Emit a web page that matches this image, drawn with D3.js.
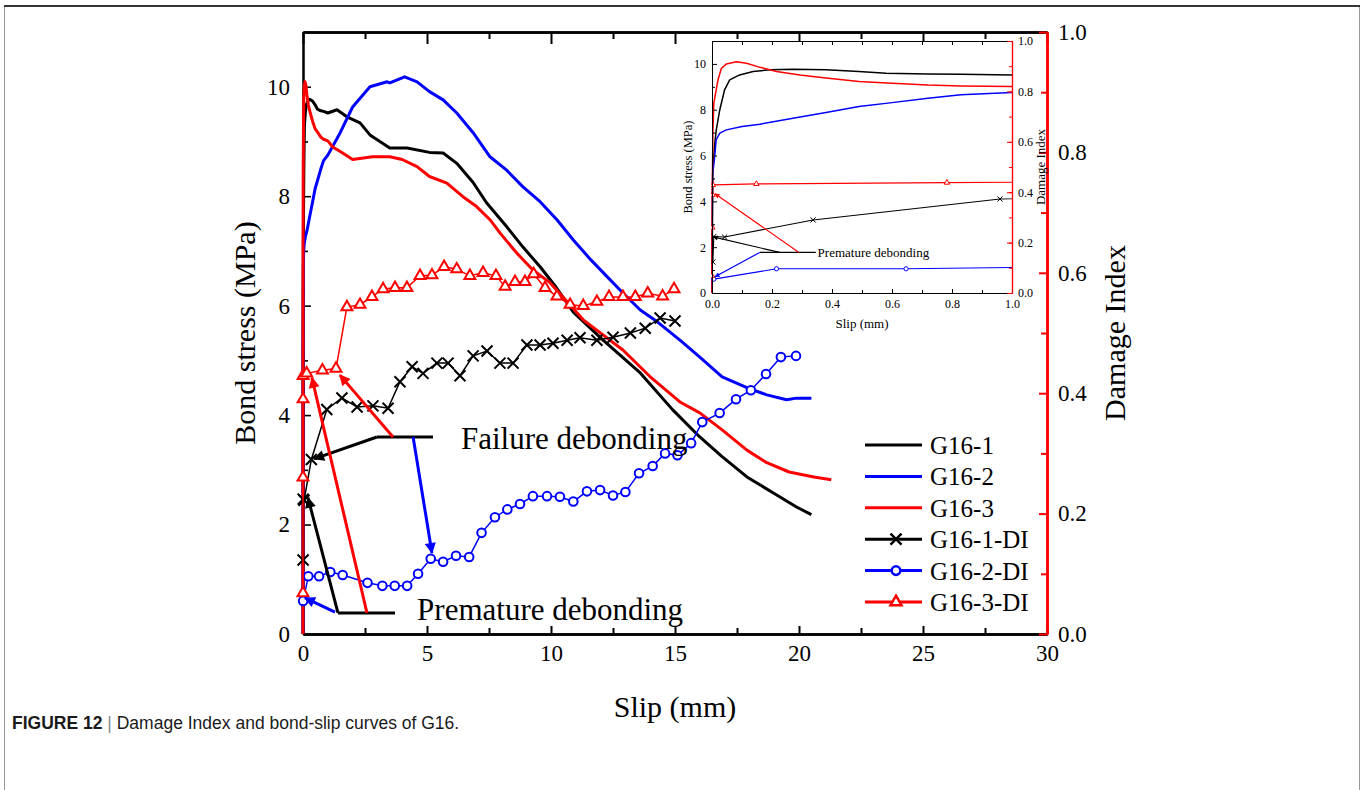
<!DOCTYPE html>
<html lang="en">
<head>
<meta charset="UTF-8">
<title>Damage Index and bond-slip curves of G16</title>
<script src="https://cdn.jsdelivr.net/npm/d3@7/dist/d3.min.js"></script>
<style>
  body { margin: 0; background: #fff; }
</style>
</head>
<body>
<svg id="main" width="1363" height="790"></svg>
<script>
    // bond stress (MPa) against slip (mm)
    const g161 = [[0,0],[0.002,4.5],[0.003,5.4],[0.009,6.5],[0.014,7.1],[0.026,8.0],[0.042,8.87],[0.059,9.3],
        [0.092,9.52],[0.137,9.67],[0.193,9.74],[0.27,9.77],[0.38,9.74],[0.49,9.67],[0.58,9.59],[0.72,9.56],
        [0.83,9.55],[1.0,9.52],[1.37,9.58],[1.77,9.45],[2.3,9.34],[2.7,9.12],[3.1,9.0],[3.5,8.88],[4.2,8.88],
        [5.1,8.8],[5.65,8.79],[6.2,8.6],[6.86,8.25],[7.4,7.88],[8.2,7.45],[8.87,7.07],[9.56,6.71],[10.2,6.34],
        [10.9,5.88],[12.1,5.37],[13.6,4.77],[14.9,4.1],[16.0,3.6],[16.9,3.24],[17.9,2.87],[18.95,2.58],
        [19.9,2.32],[20.5,2.18]];
    const g162 = [[0,0],[0.002,5.2],[0.006,5.6],[0.009,5.96],[0.014,6.69],[0.026,6.98],[0.048,7.12],[0.1,7.27],
        [0.16,7.37],[0.27,7.63],[0.38,7.88],[0.49,8.14],[0.6,8.31],[0.72,8.5],[0.83,8.65],[1.0,8.75],[1.5,9.16],
        [2.0,9.63],[2.7,10.0],[3.39,10.09],[3.5,10.07],[4.1,10.18],[4.6,10.09],[5.1,9.91],[5.65,9.76],[6.2,9.52],
        [6.86,9.16],[7.54,8.72],[8.2,8.48],[8.87,8.17],[9.56,7.9],[10.24,7.57],[10.9,7.2],[11.6,6.84],
        [12.26,6.53],[12.9,6.23],[13.6,5.92],[14.3,5.7],[15.2,5.37],[16.0,5.06],[16.9,4.7],[17.9,4.5],
        [18.7,4.37],[19.5,4.28],[19.9,4.31],[20.5,4.31]];
    const g163 = [[0,0],[0.001,4.5],[0.003,7.0],[0.006,8.28],[0.012,8.72],[0.02,9.3],[0.031,9.8],[0.048,10.0],
        [0.081,10.09],[0.115,10.03],[0.16,9.85],[0.215,9.67],[0.293,9.52],[0.38,9.38],[0.49,9.23],[0.6,9.16],
        [0.72,9.08],[0.83,9.04],[1.0,9.01],[1.2,8.9],[1.6,8.79],[2.0,8.67],[2.8,8.72],[3.5,8.72],[4.0,8.67],
        [4.6,8.54],[5.1,8.36],[5.8,8.24],[6.45,7.99],[7.0,7.81],[7.54,7.57],[7.94,7.33],[8.6,6.97],[9.27,6.65],
        [9.96,6.42],[10.6,6.1],[11.3,5.74],[12.9,5.19],[14.0,4.7],[15.2,4.24],[16.0,4.04],[16.9,3.73],
        [17.9,3.36],[18.7,3.13],[19.6,2.96],[20.6,2.87],[21.3,2.82]];

    // damage index against slip (mm)
    const g161DI = [[0.003,0.123],[0.006,0.224],[0.042,0.222],[0.337,0.29],[0.96,0.373],[1.57,0.392],[2.18,0.377],
        [2.82,0.379],[3.43,0.375],[3.91,0.419],[4.4,0.444],[4.84,0.433],[5.4,0.45],[5.85,0.45],[6.33,0.429],
        [6.86,0.462],[7.42,0.47],[7.94,0.45],[8.47,0.45],[9.03,0.48],[9.56,0.48],[10.08,0.483],[10.65,0.488],
        [11.17,0.492],[11.85,0.488],[12.5,0.493],[13.2,0.5],[13.8,0.508],[14.4,0.525],[15.0,0.52]];
    const g162DI = [[0.006,0.055],[0.215,0.096],[0.647,0.096],[1.1,0.103],[1.6,0.098],[2.6,0.085],[3.2,0.08],
        [3.7,0.08],[4.2,0.08],[4.64,0.1],[5.15,0.125],[5.65,0.12],[6.17,0.13],[6.7,0.128],[7.2,0.168],
        [7.74,0.194],[8.24,0.207],[8.75,0.216],[9.27,0.229],[9.84,0.229],[10.36,0.228],[10.9,0.22],[11.45,0.237],
        [11.98,0.239],[12.5,0.23],[13.0,0.236],[13.55,0.267],[14.1,0.279],[14.6,0.3],[15.1,0.297],[15.65,0.317],
        [16.1,0.352],[16.8,0.367],[17.46,0.39],[18.06,0.405],[18.67,0.432],[19.27,0.46],[19.88,0.462]];
    const g163DI = [[0,0.068],[0.001,0.26],[0.002,0.39],[0.003,0.429],[0.148,0.433],[0.783,0.438],[1.33,0.441],
        [1.77,0.543],[2.3,0.547],[2.78,0.56],[3.23,0.573],[3.71,0.575],[4.19,0.575],[4.72,0.595],[5.2,0.596],
        [5.69,0.61],[6.2,0.606],[6.73,0.595],[7.26,0.6],[7.78,0.595],[8.15,0.577],[8.55,0.585],[8.95,0.585],
        [9.3,0.598],[9.76,0.575],[10.24,0.561],[10.77,0.547],[11.3,0.545],[11.85,0.552],[12.34,0.56],[12.9,0.56],
        [13.4,0.56],[13.9,0.566],[14.5,0.561],[14.96,0.573]];

    const slipTicks = [0, 5, 10, 15, 20, 25, 30];
    const stressTicks = [0, 2, 4, 6, 8, 10];
    const diTicks = [0, 0.2, 0.4, 0.6, 0.8, 1.0];
    const insetSlipTicks = [0, 0.2, 0.4, 0.6, 0.8, 1.0];
    const legendNames = ['G16-1', 'G16-2', 'G16-3', 'G16-1-DI', 'G16-2-DI', 'G16-3-DI'];

    const serif = '"Liberation Serif", "Times New Roman", serif';
    let svg = d3.select('svg#main');

    // figure frame + caption
    svg.append('rect').attr('x', 4.5).attr('y', 6).attr('width', 1355).attr('height', 800)
        .attr('fill', 'none').attr('stroke', '#999').attr('stroke-width', 1);
    svg.append('line').attr('x1', 4).attr('x2', 1360).attr('y1', 6).attr('y2', 6)
        .attr('stroke', '#333').attr('stroke-width', 2);
    let cap = svg.append('text').attr('x', 12).attr('y', 729)
        .attr('font-family', '"Liberation Sans", Arial, sans-serif').attr('font-size', 17.5).attr('fill', '#1a1a1a');
    cap.append('tspan').attr('font-weight', 'bold').text('FIGURE 12');
    cap.append('tspan').attr('fill', '#888').text(' | ');
    cap.append('tspan').text('Damage Index and bond-slip curves of G16.');

    const series = [
        {data: g161, color: '#000'}, {data: g162, color: '#0000ff'}, {data: g163, color: '#ff0000'}
    ];
    const diSeries = [
        {data: g161DI, color: '#000', mark: 'x'}, {data: g162DI, color: '#0000ff', mark: 'o'},
        {data: g163DI, color: '#ff0000', mark: 't'}
    ];

    function markPath(kind, s) {
        if (kind === 'x') return `M${-s},${-s}L${s},${s}M${-s},${s}L${s},${-s}`;
        if (kind === 'o') return d3.symbol(d3.symbolCircle, Math.PI * s * s)();
        return d3.symbol(d3.symbolTriangle, s * s * 1.9)();
    }

    function tickAxis(parent, gen, scale, values, size, fmt, color, width, pos, pad, fontSize) {
        let a = gen(scale).tickValues(values).tickSizeInner(-size).tickSizeOuter(0)
            .tickPadding(pad).tickFormat(fmt);
        let g = parent.append('g').attr('transform', pos).call(a)
            .attr('font-family', serif).attr('font-size', fontSize);
        g.select('.domain').attr('stroke', color).attr('stroke-width', width);
        g.selectAll('.tick line').attr('stroke', color).attr('stroke-width', Math.max(1, width * 0.8));
        g.selectAll('.tick text').attr('fill', '#000');
        return g;
    }

    function drawPlot(g, x, y, yd, st) {
        let line = d3.line().x(d => x(d[0])).y(d => y(d[1]));
        let diLine = d3.line().x(d => x(d[0])).y(d => yd(d[1]));
        g.selectAll('path.stress').data(series).enter().append('path')
            .attr('class', 'stress')
            .attr('d', d => line(d.data)).attr('fill', 'none')
            .attr('stroke', d => d.color).attr('stroke-width', st.lw).attr('stroke-linejoin', 'round');
        diSeries.forEach(s => {
            g.append('path').attr('d', diLine(s.data)).attr('fill', 'none')
                .attr('stroke', s.color).attr('stroke-width', st.dlw);
            g.selectAll(null).data(s.data.filter(d => x(d[0]) <= st.xMax + 1)).enter().append('path')
                .attr('transform', d => `translate(${x(d[0])},${yd(d[1])})`)
                .attr('d', markPath(s.mark, st.ms[s.mark]))
                .attr('fill', s.mark === 'x' ? 'none' : '#fff')
                .attr('stroke', s.color).attr('stroke-width', st.mw);
        });
    }

    // arrowheads
    let defs = svg.append('defs');
    [['k', '#000'], ['b', '#0000ff'], ['r', '#ff0000']].forEach(([id, c]) => {
        defs.append('marker').attr('id', 'ah' + id).attr('viewBox', '0 0 10 10')
            .attr('refX', 9).attr('refY', 5).attr('markerWidth', 15).attr('markerHeight', 11)
            .attr('markerUnits', 'userSpaceOnUse').attr('orient', 'auto')
            .append('path').attr('d', 'M0,0L10,5L0,10Z').attr('fill', c);
        defs.append('marker').attr('id', 'as' + id).attr('viewBox', '0 0 10 10')
            .attr('refX', 9).attr('refY', 5).attr('markerWidth', 7).attr('markerHeight', 5)
            .attr('markerUnits', 'userSpaceOnUse').attr('orient', 'auto')
            .append('path').attr('d', 'M0,0L10,5L0,10Z').attr('fill', c);
    });

    // ---------- main plot ----------
    const x = d3.scaleLinear().domain([0, 30]).range([303, 1047]);
    const y = d3.scaleLinear().domain([0, 11]).range([634, 32]);
    const yDI = d3.scaleLinear().domain([0, 1]).range([634, 32]);

    let ax = svg.append('g');
    tickAxis(ax, d3.axisBottom, x, slipTicks, 8, d3.format('d'), '#000', 2.5, 'translate(0,634)', 11, 23);
    tickAxis(ax, d3.axisBottom, x, slipTicks.slice(0, -1).map(v => v + 2.5), 6, () => '', '#000', 2.5, 'translate(0,634)', 11, 23);
    tickAxis(ax, d3.axisTop, x, slipTicks, 12, () => '', '#000', 2.5, 'translate(0,32)', 0, 10);
    tickAxis(ax, d3.axisTop, x, slipTicks.slice(0, -1).map(v => v + 2.5), 7, () => '', '#000', 2.5, 'translate(0,32)', 0, 10);
    tickAxis(ax, d3.axisLeft, y, stressTicks, 8, d3.format('d'), '#000', 2, 'translate(303,0)', 13, 23);
    tickAxis(ax, d3.axisLeft, y, stressTicks.map(v => v + 1), 5, () => '', '#000', 2, 'translate(303,0)', 13, 23);
    tickAxis(ax, d3.axisRight, yDI, diTicks, 8, d3.format('.1f'), '#ff0000', 2.5, 'translate(1047,0)', 11, 23);
    tickAxis(ax, d3.axisRight, yDI, diTicks.slice(0, -1).map(v => v + 0.1), 6, () => '', '#ff0000', 2.5, 'translate(1047,0)', 11, 23);

    svg.append('text').attr('transform', 'translate(255,333) rotate(-90)').attr('text-anchor', 'middle')
        .attr('font-family', serif).attr('font-size', 30).text('Bond stress (MPa)');
    svg.append('text').attr('transform', 'translate(1125,333) rotate(-90)').attr('text-anchor', 'middle')
        .attr('font-family', serif).attr('font-size', 30).text('Damage Index');
    svg.append('text').attr('x', 675).attr('y', 717).attr('text-anchor', 'middle')
        .attr('font-family', serif).attr('font-size', 30).text('Slip (mm)');

    drawPlot(svg.append('g'), x, y, yDI, {lw: 3, dlw: 1.5, mw: 2, xMax: 1047, ms: {x: 5.5, o: 4.3, t: 5.2}});

    // annotations (slip, stress)
    function annotate(g, xs, ys, lines, arrows, label, mk, lw, fs) {
        lines.forEach(l => g.append('line')
            .attr('x1', xs(l[0])).attr('y1', ys(l[1])).attr('x2', xs(l[2])).attr('y2', ys(l[3]))
            .attr('stroke', '#000').attr('stroke-width', lw));
        arrows.forEach(a => g.append('line')
            .attr('x1', xs(a[1])).attr('y1', ys(a[2])).attr('x2', xs(a[3])).attr('y2', ys(a[4]))
            .attr('stroke', a[0] === 'k' ? '#000' : a[0] === 'b' ? '#0000ff' : '#ff0000')
            .attr('stroke-width', lw).attr('marker-end', `url(#${mk}${a[0]})`));
        g.append('text').attr('x', xs(label[1])).attr('y', ys(label[2]))
            .attr('font-family', serif).attr('font-size', fs).text(label[0]);
    }
    let ann = svg.append('g');
    annotate(ann, x, y, [[2.98, 3.6, 5.24, 3.6]],
        [['k', 2.98, 3.6, 0.45, 3.2], ['r', 3.63, 3.6, 1.49, 4.73], ['b', 4.44, 3.6, 5.2, 1.48]],
        ['Failure debonding', 6.37, 3.38], 'ah', 3, 31);
    annotate(ann, x, y, [[1.41, 0.384, 3.71, 0.384]],
        [['k', 1.41, 0.384, 0.2, 2.49], ['r', 2.58, 0.384, 0.36, 4.68], ['b', 1.29, 0.4, 0.08, 0.66]],
        ['Premature debonding', 4.6, 0.256], 'ah', 3, 31);

    // legend
    let leg = svg.append('g').selectAll('g').data(legendNames).enter().append('g')
        .attr('transform', (d, i) => `translate(865,${445 + i * 31.4})`);
    leg.append('line').attr('x1', 0).attr('x2', 57)
        .attr('stroke', (d, i) => ['#000', '#0000ff', '#ff0000'][i % 3]).attr('stroke-width', 3);
    leg.filter((d, i) => i > 2).append('path')
        .attr('transform', 'translate(31,0)')
        .attr('d', (d, i) => markPath(['x', 'o', 't'][i], [5.5, 4.3, 5.2][i]))
        .attr('fill', (d, i) => i === 0 ? 'none' : '#fff')
        .attr('stroke', (d, i) => ['#000', '#0000ff', '#ff0000'][i]).attr('stroke-width', 2.5);
    leg.append('text').attr('x', 65).attr('y', 9).attr('font-family', serif).attr('font-size', 25)
        .text(d => d);

    // ---------- inset ----------
    const xi = d3.scaleLinear().domain([0, 1]).range([712, 1012]);
    const yi = d3.scaleLinear().domain([0, 11]).range([293, 41]);
    const yiDI = d3.scaleLinear().domain([0, 1]).range([293, 41]);

    svg.append('rect').attr('x', 712).attr('y', 41).attr('width', 300).attr('height', 252).attr('fill', '#fff');
    defs.append('clipPath').attr('id', 'insetClip').append('rect')
        .attr('x', 711).attr('y', 41).attr('width', 301).attr('height', 252);
    let ins = svg.append('g');
    drawPlot(ins.append('g').attr('clip-path', 'url(#insetClip)'), xi, yi, yiDI,
        {lw: 1.5, dlw: 1.1, mw: 1, xMax: 1012, ms: {x: 2.6, o: 2.1, t: 2.6}});

    const tenth = d3.range(0, 1.001, 0.1);
    tickAxis(ins, d3.axisBottom, xi, insetSlipTicks, 4, d3.format('.1f'), '#000', 1, 'translate(0,293)', 6, 12);
    tickAxis(ins, d3.axisBottom, xi, tenth, 3, () => '', '#000', 1, 'translate(0,293)', 6, 12);
    tickAxis(ins, d3.axisTop, xi, tenth, 4, () => '', '#000', 1, 'translate(0,41)', 0, 12);
    tickAxis(ins, d3.axisLeft, yi, stressTicks, 5, d3.format('d'), '#000', 1, 'translate(712,0)', 6, 12);
    tickAxis(ins, d3.axisLeft, yi, stressTicks.map(v => v + 1), 3, () => '', '#000', 1, 'translate(712,0)', 6, 12);
    tickAxis(ins, d3.axisRight, yiDI, diTicks, 5, d3.format('.1f'), '#ff0000', 1.2, 'translate(1012,0)', 6, 12);
    tickAxis(ins, d3.axisRight, yiDI, tenth, 3, () => '', '#ff0000', 1.2, 'translate(1012,0)', 6, 12);

    ins.append('text').attr('transform', 'translate(692,167) rotate(-90)').attr('text-anchor', 'middle')
        .attr('font-family', serif).attr('font-size', 12.5).text('Bond stress (MPa)');
    ins.append('text').attr('transform', 'translate(1045,167) rotate(-90)').attr('text-anchor', 'middle')
        .attr('font-family', serif).attr('font-size', 13).text('Damage Index');
    ins.append('text').attr('x', 862).attr('y', 328).attr('text-anchor', 'middle')
        .attr('font-family', serif).attr('font-size', 13).text('Slip (mm)');

    annotate(ins, xi, yi, [[0.159, 1.77, 0.346, 1.77]],
        [['k', 0.226, 1.77, 0.004, 2.45], ['r', 0.29, 1.77, 0.01, 4.33], ['b', 0.159, 1.77, 0.01, 0.71]],
        ['Premature debonding', 0.352, 1.58], 'as', 1.2, 13);
</script>
</body>
</html>
